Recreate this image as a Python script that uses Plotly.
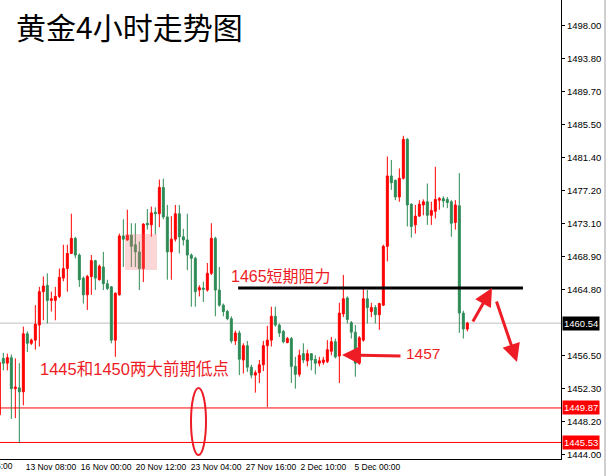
import plotly.graph_objects as go

# ---------------- data ----------------
open_ = [1449.0, 1456.1, 1455.5, 1456.2, 1452.3, 1452.4, 1451.9, 1459.2, 1458.0, 1458.4,
         1460.3, 1464.5, 1465.3, 1463.4, 1463.4, 1463.9, 1466.2, 1467.4, 1469.3, 1471.2,
         1469.1, 1466.2, 1464.1, 1466.4, 1468.4, 1466.0, 1467.6, 1465.5, 1465.1, 1458.4,
         1464.1, 1471.5, 1471.0, 1471.6, 1470.4, 1469.5, 1467.4, 1473.1, 1472.9, 1474.5,
         1474.3, 1477.6, 1473.9, 1469.5, 1471.1, 1474.3, 1471.4, 1471.0, 1469.1, 1468.7,
         1464.7, 1464.95, 1464.7, 1466.8, 1471.2, 1464.7, 1462.8, 1462.0, 1461.1, 1458.3,
         1459.3, 1455.9, 1457.7, 1455.0, 1454.0, 1454.3, 1455.3, 1457.7, 1458.4, 1461.4,
         1460.3, 1459.5, 1458.1, 1458.6, 1455.1, 1454.1, 1456.7, 1455.8, 1456.7, 1456.0,
         1455.5, 1455.6, 1455.7, 1457.0, 1458.2, 1456.4, 1461.7, 1463.7, 1460.6, 1459.4,
         1455.5, 1458.4, 1463.6, 1462.0, 1462.5, 1461.6, 1462.8, 1470.2, 1479.05, 1478.5,
         1476.4, 1478.75, 1483.66, 1475.5, 1472.9, 1474.0, 1475.4, 1475.8, 1474.1, 1474.6,
         1476.0, 1476.2, 1476.1, 1475.8, 1473.2, 1475.3, 1461.8, 1459.8]
high = [1455.8, 1456.8, 1456.7, 1456.6, 1456.1, 1455.5, 1460.1, 1459.5, 1458.6, 1462.8,
        1465.1, 1466.4, 1466.8, 1464.5, 1465.1, 1467.4, 1470.4, 1470.4, 1474.3, 1471.4,
        1469.3, 1466.4, 1466.6, 1469.1, 1468.5, 1467.9, 1469.5, 1466.0, 1465.2, 1464.4,
        1471.8, 1473.6, 1474.8, 1473.1, 1473.1, 1470.8, 1473.1, 1474.9, 1475.2, 1475.1,
        1478.6, 1478.7, 1475.4, 1474.0, 1475.4, 1475.4, 1472.4, 1474.3, 1469.3, 1468.9,
        1465.3, 1465.75, 1468.1, 1473.1, 1471.4, 1467.6, 1463.0, 1462.2, 1461.4, 1459.6,
        1459.6, 1458.0, 1458.3, 1455.3, 1454.6, 1455.9, 1458.3, 1460.2, 1462.6, 1462.6,
        1460.5, 1459.7, 1458.8, 1458.8, 1456.3, 1457.2, 1458.0, 1457.2, 1456.7, 1456.5,
        1456.3, 1456.3, 1458.4, 1458.8, 1458.6, 1463.1, 1466.6, 1463.9, 1460.8, 1460.3,
        1458.9, 1465.1, 1464.7, 1463.1, 1462.8, 1463.1, 1470.4, 1481.5, 1481.06, 1478.6,
        1480.0, 1484.1, 1483.8, 1475.6, 1475.4, 1476.0, 1476.1, 1478.1, 1475.8, 1480.2,
        1476.4, 1476.5, 1476.4, 1476.0, 1476.0, 1479.4, 1462.1, 1460.7]
low = [1448.9, 1454.6, 1454.6, 1448.5, 1448.6, 1445.5, 1450.2, 1456.9, 1457.8, 1457.2,
       1457.6, 1460.9, 1460.5, 1462.0, 1460.9, 1463.7, 1465.8, 1464.5, 1469.3, 1468.7,
       1465.1, 1463.0, 1462.2, 1464.1, 1464.7, 1465.9, 1464.7, 1464.7, 1458.0, 1456.3,
       1464.0, 1467.6, 1470.9, 1467.6, 1467.6, 1464.7, 1465.7, 1472.3, 1471.4, 1471.7,
       1472.6, 1473.6, 1466.0, 1466.0, 1470.8, 1469.3, 1470.3, 1467.2, 1462.6, 1462.6,
       1463.9, 1463.2, 1464.5, 1466.6, 1461.4, 1462.6, 1461.4, 1460.9, 1458.0, 1457.8,
       1454.0, 1454.2, 1454.4, 1453.6, 1451.8, 1453.0, 1454.5, 1450.0, 1457.6, 1460.1,
       1458.8, 1458.0, 1458.0, 1453.0, 1452.3, 1453.8, 1455.5, 1455.1, 1454.6, 1454.1,
       1455.1, 1455.3, 1455.5, 1456.5, 1456.1, 1453.0, 1461.3, 1460.5, 1458.6, 1453.8,
       1455.3, 1458.2, 1460.5, 1461.3, 1460.5, 1459.7, 1462.7, 1468.3, 1477.3, 1476.0,
       1475.8, 1478.6, 1472.7, 1471.3, 1471.8, 1473.9, 1474.1, 1472.9, 1472.9, 1473.7,
       1474.8, 1475.1, 1475.0, 1471.4, 1472.3, 1459.3, 1458.6, 1459.5]
close = [1455.6, 1455.5, 1456.2, 1452.3, 1452.5, 1451.9, 1459.2, 1458.0, 1458.4, 1460.4,
         1464.5, 1465.2, 1463.4, 1463.6, 1463.9, 1466.3, 1467.4, 1469.3, 1471.2, 1469.1,
         1466.0, 1464.1, 1466.4, 1468.4, 1466.2, 1467.7, 1465.5, 1464.9, 1458.4, 1464.3,
         1471.5, 1471.1, 1471.6, 1470.2, 1469.5, 1467.4, 1473.0, 1472.9, 1474.4, 1474.3,
         1477.6, 1473.9, 1469.5, 1471.1, 1474.3, 1471.4, 1471.0, 1469.1, 1468.7, 1464.5,
         1465.0, 1464.8, 1466.8, 1471.2, 1464.7, 1462.8, 1462.0, 1461.1, 1458.3, 1459.3,
         1456.0, 1457.7, 1455.0, 1454.0, 1454.3, 1455.3, 1457.7, 1458.4, 1461.4, 1460.3,
         1459.3, 1458.2, 1458.6, 1455.1, 1454.1, 1456.5, 1455.9, 1456.7, 1455.9, 1455.5,
         1455.8, 1455.9, 1457.2, 1458.2, 1456.3, 1461.8, 1463.6, 1461.0, 1459.4, 1455.5,
         1458.7, 1463.6, 1462.5, 1462.5, 1461.6, 1463.0, 1470.2, 1479.05, 1478.2, 1476.4,
         1478.75, 1483.66, 1475.4, 1472.7, 1474.0, 1475.5, 1475.8, 1474.1, 1474.7, 1476.1,
         1476.2, 1475.9, 1475.7, 1473.1, 1475.4, 1461.8, 1459.8, 1460.54]

x_tick_labels = ["13 Nov 08:00", "16 Nov 00:00", "20 Nov 12:00", "23 Nov 04:00",
                 "27 Nov 16:00", "2 Dec 10:00", "5 Dec 00:00"]
first_partial_label = "10 Nov 16:00"
y_tick_values = [1498.00, 1493.80, 1489.70, 1485.50, 1481.40, 1477.20, 1473.10,
                 1468.90, 1464.80, 1456.50, 1452.30, 1448.20, 1444.00]
last_price = 1460.54
support_levels = [1449.87, 1445.53]
resistance_level = 1464.95

title_text = "黄金4小时走势图"
resist_text = "1465短期阻力"
support_text = "1445和1450两大前期低点"
mark_text = "1457"

# ---------------- layout helpers ----------------
W, H = 608, 476
PL, PR, PT, PB = 0, 47, 0, 17
PW, PH = W - PL - PR, H - PT - PB


def xp(px):
    return (px - PL) / PW


def yp(py):
    return 1 - (py - PT) / PH


RED_TXT = "#EE1C25"
idx = list(range(len(open_)))

fig = go.Figure()
fig.add_trace(go.Candlestick(
    x=idx, open=open_, high=high, low=low, close=close,
    increasing=dict(line=dict(color="#FF0000", width=1), fillcolor="#FF0000"),
    decreasing=dict(line=dict(color="#2E8B57", width=1), fillcolor="#2E8B57"),
    whiskerwidth=0, hoverinfo="skip", showlegend=False,
))

tick_pos = [12.9, 26.7, 40.4, 54.2, 67.9, 81.0, 94.5]
x_font = dict(family="Liberation Sans, Arial", size=8.5, color="black")
y_font = dict(family="Liberation Sans, Arial", size=9.5, color="black")

fig.update_layout(
    width=W, height=H,
    margin=dict(l=PL, r=PR, t=PT, b=PB, pad=0, autoexpand=False),
    paper_bgcolor="white", plot_bgcolor="white",
    boxgap=0.3,
    xaxis=dict(range=[0.1675, 0.1675 + PW / 4], rangeslider=dict(visible=False),
               showgrid=False, zeroline=False, showline=True, linecolor="black",
               linewidth=1, tickmode="array", tickvals=tick_pos, ticktext=x_tick_labels,
               ticks="", tickangle=0, tickfont=x_font, fixedrange=True, automargin=False),
    yaxis=dict(range=[1443.45, 1501.18], side="right", showgrid=False, zeroline=False,
               showline=True, linecolor="black", linewidth=1, tickmode="array",
               tickvals=y_tick_values, ticktext=[f"{v:.2f}" for v in y_tick_values],
               ticks="outside", ticklen=3, tickcolor="black", tickfont=y_font,
               fixedrange=True, automargin=False),
)

shapes = []
shapes.append(dict(type="line", xref="paper", yref="y", x0=0, x1=1, y0=last_price,
                   y1=last_price, line=dict(color="#C0C0C0", width=1), layer="below"))
for lv in support_levels:
    shapes.append(dict(type="line", xref="paper", yref="y", x0=0, x1=1, y0=lv, y1=lv,
                       line=dict(color="#FF0000", width=1), layer="below"))
shapes.append(dict(type="line", xref="x", yref="y", x0=59.7, x1=130.9,
                   y0=resistance_level, y1=resistance_level,
                   line=dict(color="black", width=3), layer="above"))
shapes.append(dict(type="circle", xref="paper", yref="paper", x0=xp(191), x1=xp(206),
                   y0=yp(455), y1=yp(388), line=dict(color="#EE1C25", width=2)))
shapes.append(dict(type="rect", xref="paper", yref="paper", x0=xp(125), x1=xp(157),
                   y0=yp(270), y1=yp(234), fillcolor="rgba(240,120,120,0.30)",
                   line=dict(width=0), layer="above"))
shapes.append(dict(type="line", xref="paper", yref="paper", x0=xp(605), x1=xp(605),
                   y0=yp(476), y1=yp(0), line=dict(color="#A0A0A0", width=1)))
fig.update_layout(shapes=shapes)

ann = []
ann.append(dict(text=title_text, xref="paper", yref="paper", x=xp(14), y=yp(26),
                xanchor="left", yanchor="middle", showarrow=False,
                font=dict(family="Noto Sans CJK SC", size=30, color="black")))
txt_font = dict(family="Liberation Sans, Noto Sans CJK SC", color=RED_TXT)
ann.append(dict(text=resist_text, xref="paper", yref="paper", x=xp(229), y=yp(276),
                xanchor="left", yanchor="middle", showarrow=False,
                font=dict(size=16, **txt_font)))
ann.append(dict(text=support_text, xref="paper", yref="paper", x=xp(38), y=yp(369),
                xanchor="left", yanchor="middle", showarrow=False,
                font=dict(size=16.5, **txt_font)))
ann.append(dict(text=mark_text, xref="paper", yref="paper", x=xp(404), y=yp(353),
                xanchor="left", yanchor="middle", showarrow=False,
                font=dict(size=15.5, **txt_font)))
# arrows
for (tx, ty, axo, ayo) in [(342, 355, 60, 1), (492, 288, -20, 35), (517, 362, -21, -62)]:
    ann.append(dict(text="", xref="paper", yref="paper", x=xp(tx), y=yp(ty),
                    ax=axo, ay=ayo, showarrow=True, arrowhead=2, arrowsize=1.2,
                    arrowwidth=3, arrowcolor=RED_TXT))
# price labels on axis
lab_font = dict(family="Liberation Sans, Arial", size=9.5, color="white")
ann.append(dict(text=f"{last_price:.2f}", xref="paper", yref="y", x=xp(562), y=last_price,
                xanchor="left", yanchor="middle", showarrow=False, bgcolor="black",
                borderpad=1, font=lab_font))
for lv in support_levels:
    ann.append(dict(text=f"{lv:.2f}", xref="paper", yref="y", x=xp(562), y=lv,
                    xanchor="left", yanchor="middle", showarrow=False, bgcolor="#FF0000",
                    borderpad=1, font=lab_font))
ann.append(dict(text=first_partial_label, xref="paper", yref="paper", x=xp(15), y=yp(466),
                xanchor="right", yanchor="middle", showarrow=False, font=x_font))
fig.update_layout(annotations=ann)

fig.write_html("out.html", config={"displayModeBar": False},
               post_script="document.body.style.margin='0px';document.body.style.overflow='hidden';")
